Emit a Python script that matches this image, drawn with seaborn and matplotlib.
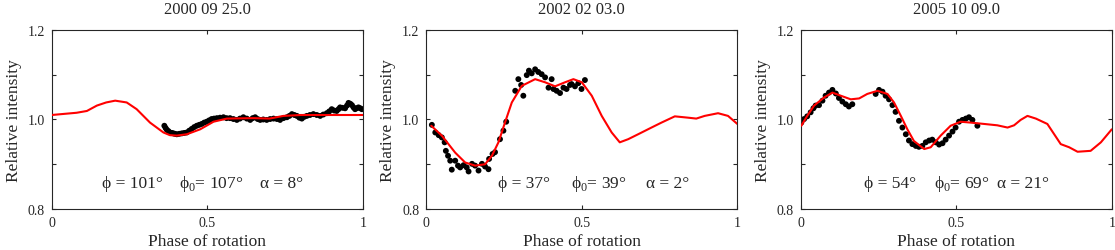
import matplotlib
matplotlib.use("Agg")
import matplotlib.pyplot as plt
import seaborn as sns

sns.set_style("ticks")
plt.rcParams["font.family"] = ["Liberation Serif", "DejaVu Serif"]
plt.rcParams["mathtext.fontset"] = "custom"
plt.rcParams["mathtext.rm"] = "Liberation Serif"

titles = ["2000 09 25.0", "2002 02 03.0", "2005 10 09.0"]
params = [("101", "107", "8"), ("37", "39", "2"), ("54", "69", "21")]
label_x = [(0.16, 0.41, 0.67), (0.232, 0.464, 0.707), (0.204, 0.428, 0.632)]

# model curves (red)
m1_x = [0.0, 0.048, 0.08, 0.113, 0.145, 0.175, 0.204, 0.241, 0.273, 0.316, 0.359,
        0.38, 0.402, 0.434, 0.477, 0.52, 0.563, 0.648, 0.70, 0.745, 0.8, 0.9, 1.0]
m1_y = [1.010, 1.013, 1.015, 1.019, 1.031, 1.038, 1.042, 1.038, 1.023, 0.993, 0.971,
        0.965, 0.964, 0.967, 0.978, 0.995, 1.002, 1.003, 1.002, 1.008, 1.010, 1.010, 1.010]

m2_x = [0.016, 0.05, 0.093, 0.125, 0.157, 0.189, 0.211, 0.232, 0.253, 0.275, 0.307,
        0.35, 0.382, 0.414, 0.446, 0.473, 0.5, 0.532, 0.564, 0.596, 0.622, 0.649,
        0.681, 0.724, 0.756, 0.799, 0.842, 0.868, 0.895, 0.938, 0.97, 1.0]
m2_y = [0.986, 0.964, 0.926, 0.904, 0.897, 0.900, 0.919, 0.949, 0.993, 1.038, 1.075,
        1.090, 1.083, 1.074, 1.083, 1.090, 1.083, 1.053, 1.008, 0.971, 0.949, 0.956,
        0.967, 0.982, 0.993, 1.007, 1.004, 1.002, 1.008, 1.014, 1.008, 0.990]

m3_x = [0.002, 0.021, 0.043, 0.075, 0.102, 0.129, 0.161, 0.188, 0.214, 0.247, 0.279,
        0.3, 0.322, 0.343, 0.364, 0.397, 0.418, 0.45, 0.482, 0.514, 0.547, 0.59,
        0.632, 0.665, 0.686, 0.707, 0.729, 0.756, 0.793, 0.836, 0.863, 0.89, 0.932,
        0.965, 1.0]
m3_y = [0.986, 1.008, 1.031, 1.049, 1.060, 1.053, 1.045, 1.047, 1.057, 1.064, 1.057,
        1.038, 1.008, 0.978, 0.952, 0.934, 0.938, 0.964, 0.986, 0.995, 0.993, 0.990,
        0.987, 0.982, 0.987, 0.999, 1.008, 1.002, 0.990, 0.945, 0.938, 0.928, 0.930,
        0.949, 0.978]

# observations (black)
o1_x = [0.362, 0.366, 0.370, 0.375, 0.380, 0.386, 0.391, 0.396, 0.402, 0.410, 0.418,
        0.426, 0.434, 0.442, 0.450, 0.458, 0.466, 0.474, 0.482, 0.490, 0.498, 0.506,
        0.514, 0.522, 0.531, 0.541, 0.552, 0.562, 0.573, 0.584, 0.595, 0.605, 0.616,
        0.627, 0.638, 0.646, 0.654, 0.662, 0.670, 0.680, 0.691, 0.702, 0.713, 0.724,
        0.734, 0.745, 0.756, 0.764, 0.772, 0.780, 0.788, 0.796, 0.804, 0.812, 0.820,
        0.830, 0.841, 0.852, 0.863, 0.873, 0.884, 0.892, 0.900, 0.908, 0.916, 0.922,
        0.927, 0.935, 0.943, 0.949, 0.954, 0.960, 0.965, 0.970, 0.975, 0.980, 0.986,
        0.992, 0.997]
o1_y = [0.986, 0.981, 0.977, 0.974, 0.971, 0.970, 0.969, 0.968, 0.967, 0.968, 0.969,
        0.970, 0.971, 0.975, 0.979, 0.983, 0.986, 0.988, 0.990, 0.993, 0.995, 0.998,
        1.001, 1.002, 1.003, 1.004, 1.005, 1.003, 1.003, 1.001, 0.999, 1.002, 1.005,
        1.002, 0.999, 1.003, 1.005, 1.001, 0.999, 1.000, 0.999, 1.001, 1.002, 1.001,
        0.999, 1.003, 1.005, 1.008, 1.012, 1.010, 1.008, 1.004, 1.002, 1.006, 1.008,
        1.010, 1.012, 1.010, 1.008, 1.011, 1.014, 1.018, 1.023, 1.020, 1.019, 1.023,
        1.027, 1.026, 1.025, 1.031, 1.037, 1.035, 1.032, 1.027, 1.023, 1.025, 1.027,
        1.025, 1.023]

o2_x = [0.018, 0.029, 0.040, 0.050, 0.059, 0.063, 0.070, 0.077, 0.082, 0.093, 0.102,
        0.109, 0.120, 0.130, 0.136, 0.147, 0.157, 0.168, 0.179, 0.189, 0.200, 0.202,
        0.213, 0.221, 0.237, 0.248, 0.257, 0.286, 0.296, 0.305, 0.312, 0.323, 0.330,
        0.339, 0.350, 0.360, 0.371, 0.382, 0.393, 0.403, 0.409, 0.419, 0.430, 0.441,
        0.451, 0.462, 0.467, 0.478, 0.489, 0.499, 0.510]
o2_y = [0.988, 0.971, 0.965, 0.960, 0.949, 0.930, 0.919, 0.908, 0.888, 0.908, 0.897,
        0.893, 0.898, 0.893, 0.884, 0.901, 0.897, 0.886, 0.901, 0.895, 0.889, 0.912,
        0.923, 0.927, 0.956, 0.975, 0.995, 1.064, 1.090, 1.077, 1.053, 1.099, 1.109,
        1.103, 1.112, 1.106, 1.101, 1.094, 1.071, 1.090, 1.068, 1.064, 1.059, 1.071,
        1.068, 1.077, 1.079, 1.074, 1.081, 1.068, 1.088]

o3_x = [0.002, 0.011, 0.021, 0.032, 0.041, 0.048, 0.059, 0.070, 0.080, 0.091, 0.102,
        0.113, 0.123, 0.134, 0.145, 0.155, 0.166, 0.241, 0.252, 0.263, 0.273, 0.284,
        0.295, 0.305, 0.316, 0.327, 0.338, 0.348, 0.359, 0.370, 0.380, 0.391, 0.402,
        0.413, 0.423, 0.434, 0.445, 0.456, 0.466, 0.477, 0.488, 0.498, 0.509, 0.520,
        0.531, 0.541, 0.552, 0.568]
o3_y = [0.993, 1.001, 1.007, 1.016, 1.025, 1.031, 1.032, 1.042, 1.053, 1.060, 1.066,
        1.058, 1.048, 1.040, 1.034, 1.029, 1.034, 1.057, 1.066, 1.062, 1.053, 1.045,
        1.032, 1.017, 0.997, 0.982, 0.967, 0.953, 0.945, 0.941, 0.939, 0.941, 0.949,
        0.953, 0.955, 0.949, 0.944, 0.947, 0.955, 0.964, 0.973, 0.982, 0.995, 0.999,
        1.002, 1.005, 0.999, 0.986]

models = [(m1_x, m1_y), (m2_x, m2_y), (m3_x, m3_y)]
obs = [(o1_x, o1_y), (o2_x, o2_y), (o3_x, o3_y)]

fig = plt.figure(figsize=(11.15, 2.51), dpi=100)
lefts = [0.0464, 0.3823, 0.7181]

for i in range(3):
    ax = fig.add_axes([lefts[i], 0.163, 0.279, 0.714])
    sns.scatterplot(x=obs[i][0], y=obs[i][1], ax=ax, color="black", s=18,
                    edgecolor="none", zorder=2)
    sns.lineplot(x=models[i][0], y=models[i][1], ax=ax, color="red", lw=1.5,
                 sort=False, zorder=3)
    ax.set_xlim(0, 1)
    ax.set_ylim(0.8, 1.2)
    ax.set_xticks([0, 0.5, 1])
    ax.set_xticklabels(["0", "0.5", "1"])
    ax.set_yticks([0.8, 0.9, 1.0, 1.1, 1.2])
    ax.set_yticklabels(["0.8", "", "1.0", "", "1.2"])
    ax.tick_params(direction="in", length=3, width=0.8, top=True, right=True,
                   labelsize=10, pad=5)
    for sp in ax.spines.values():
        sp.set_linewidth(0.8)
    ax.set_title(titles[i], fontsize=12, pad=12.5)
    ax.set_xlabel("Phase of rotation", fontsize=12.5, labelpad=3)
    ax.set_ylabel("Relative intensity", fontsize=12.5, labelpad=4)
    p, p0, a = params[i]
    lx = label_x[i]
    ax.text(lx[0], 0.85, "ϕ = " + p + "°", fontsize=12.5)
    ax.text(lx[1], 0.85, "ϕ$_{0}$= " + p0 + "°", fontsize=12.5)
    ax.text(lx[2], 0.85, "α = " + a + "°", fontsize=12.5)

fig.savefig("out.png", dpi=100)
